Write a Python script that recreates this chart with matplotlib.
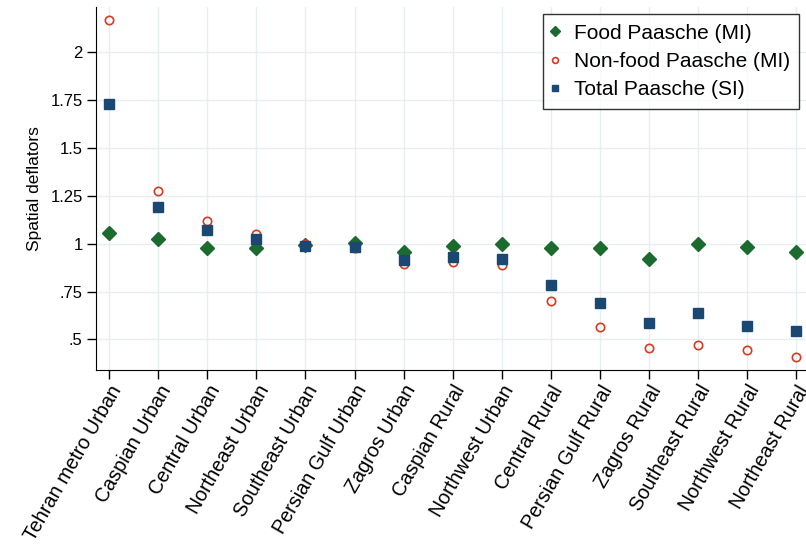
import numpy as np
import matplotlib.pyplot as plt
from matplotlib.ticker import FuncFormatter

plt.rcParams['font.family'] = ['Liberation Sans', 'DejaVu Sans']

regions = ["Tehran metro Urban", "Caspian Urban", "Central Urban", "Northeast Urban",
           "Southeast Urban", "Persian Gulf Urban", "Zagros Urban", "Caspian Rural",
           "Northwest Urban", "Central Rural", "Persian Gulf Rural", "Zagros Rural",
           "Southeast Rural", "Northwest Rural", "Northeast Rural"]
food = [1.057, 1.025, 0.978, 0.979, 0.992, 1.002, 0.958, 0.990, 0.997, 0.976,
        0.979, 0.920, 0.997, 0.984, 0.957]
nonfood = [2.167, 1.275, 1.118, 1.050, 0.998, 0.976, 0.892, 0.903, 0.889, 0.701,
           0.564, 0.457, 0.470, 0.446, 0.407]
total = [1.730, 1.193, 1.071, 1.023, 0.990, 0.984, 0.915, 0.929, 0.919, 0.786,
         0.692, 0.585, 0.637, 0.572, 0.543]
yticks = [0.5, 0.75, 1, 1.25, 1.5, 1.75, 2]

x = np.arange(len(regions))

fig = plt.figure(figsize=(8.06, 5.5), dpi=100)
ax = fig.add_axes([0.119, 0.327, 0.881, 0.66])

ax.plot(x, food, 'D', color='#1b6a2e', ms=6.8, ls='none', label="Food Paasche (MI)", zorder=3)
ax.plot(x, nonfood, 'o', mfc='none', mec='#d83a22', mew=1.2, ms=6, ls='none',
        label="Non-food Paasche (MI)", zorder=3)
ax.plot(x, total, 's', color='#1a4872', ms=6.7, ls='none', label="Total Paasche (SI)", zorder=3)

ax.set_xlim(-0.27, 14.2)
ax.set_ylim(0.34, 2.233)
ax.set_xticks(x)
ax.set_xticklabels(regions, rotation=60, ha='right', rotation_mode='anchor', fontsize=14.2)
ax.set_yticks(yticks)
ax.yaxis.set_major_formatter(FuncFormatter(lambda v, p: ('%g' % v).lstrip('0') if v < 1 else '%g' % v))
ax.tick_params(axis='both', length=6.5, width=1, direction='out', labelsize=12, pad=3)
ax.tick_params(axis='x', labelsize=14.2, pad=2)
ax.grid(True, color='#e6eef0', lw=1)
ax.set_axisbelow(True)
for s in ['top', 'right']:
    ax.spines[s].set_visible(False)
ax.set_ylabel("Spatial deflators", fontsize=12.5, labelpad=6)

leg = ax.legend(loc='upper right', fontsize=15, frameon=True, fancybox=False,
                edgecolor='black', handletextpad=0.8, borderpad=0.45, labelspacing=0.45,
                handlelength=0.2, markerscale=0.7, borderaxespad=0,
                bbox_to_anchor=(799 / 806, 1 - 14.3 / 550), bbox_transform=fig.transFigure)
leg.get_frame().set_linewidth(1)

fig.savefig("out.png", dpi=100)
